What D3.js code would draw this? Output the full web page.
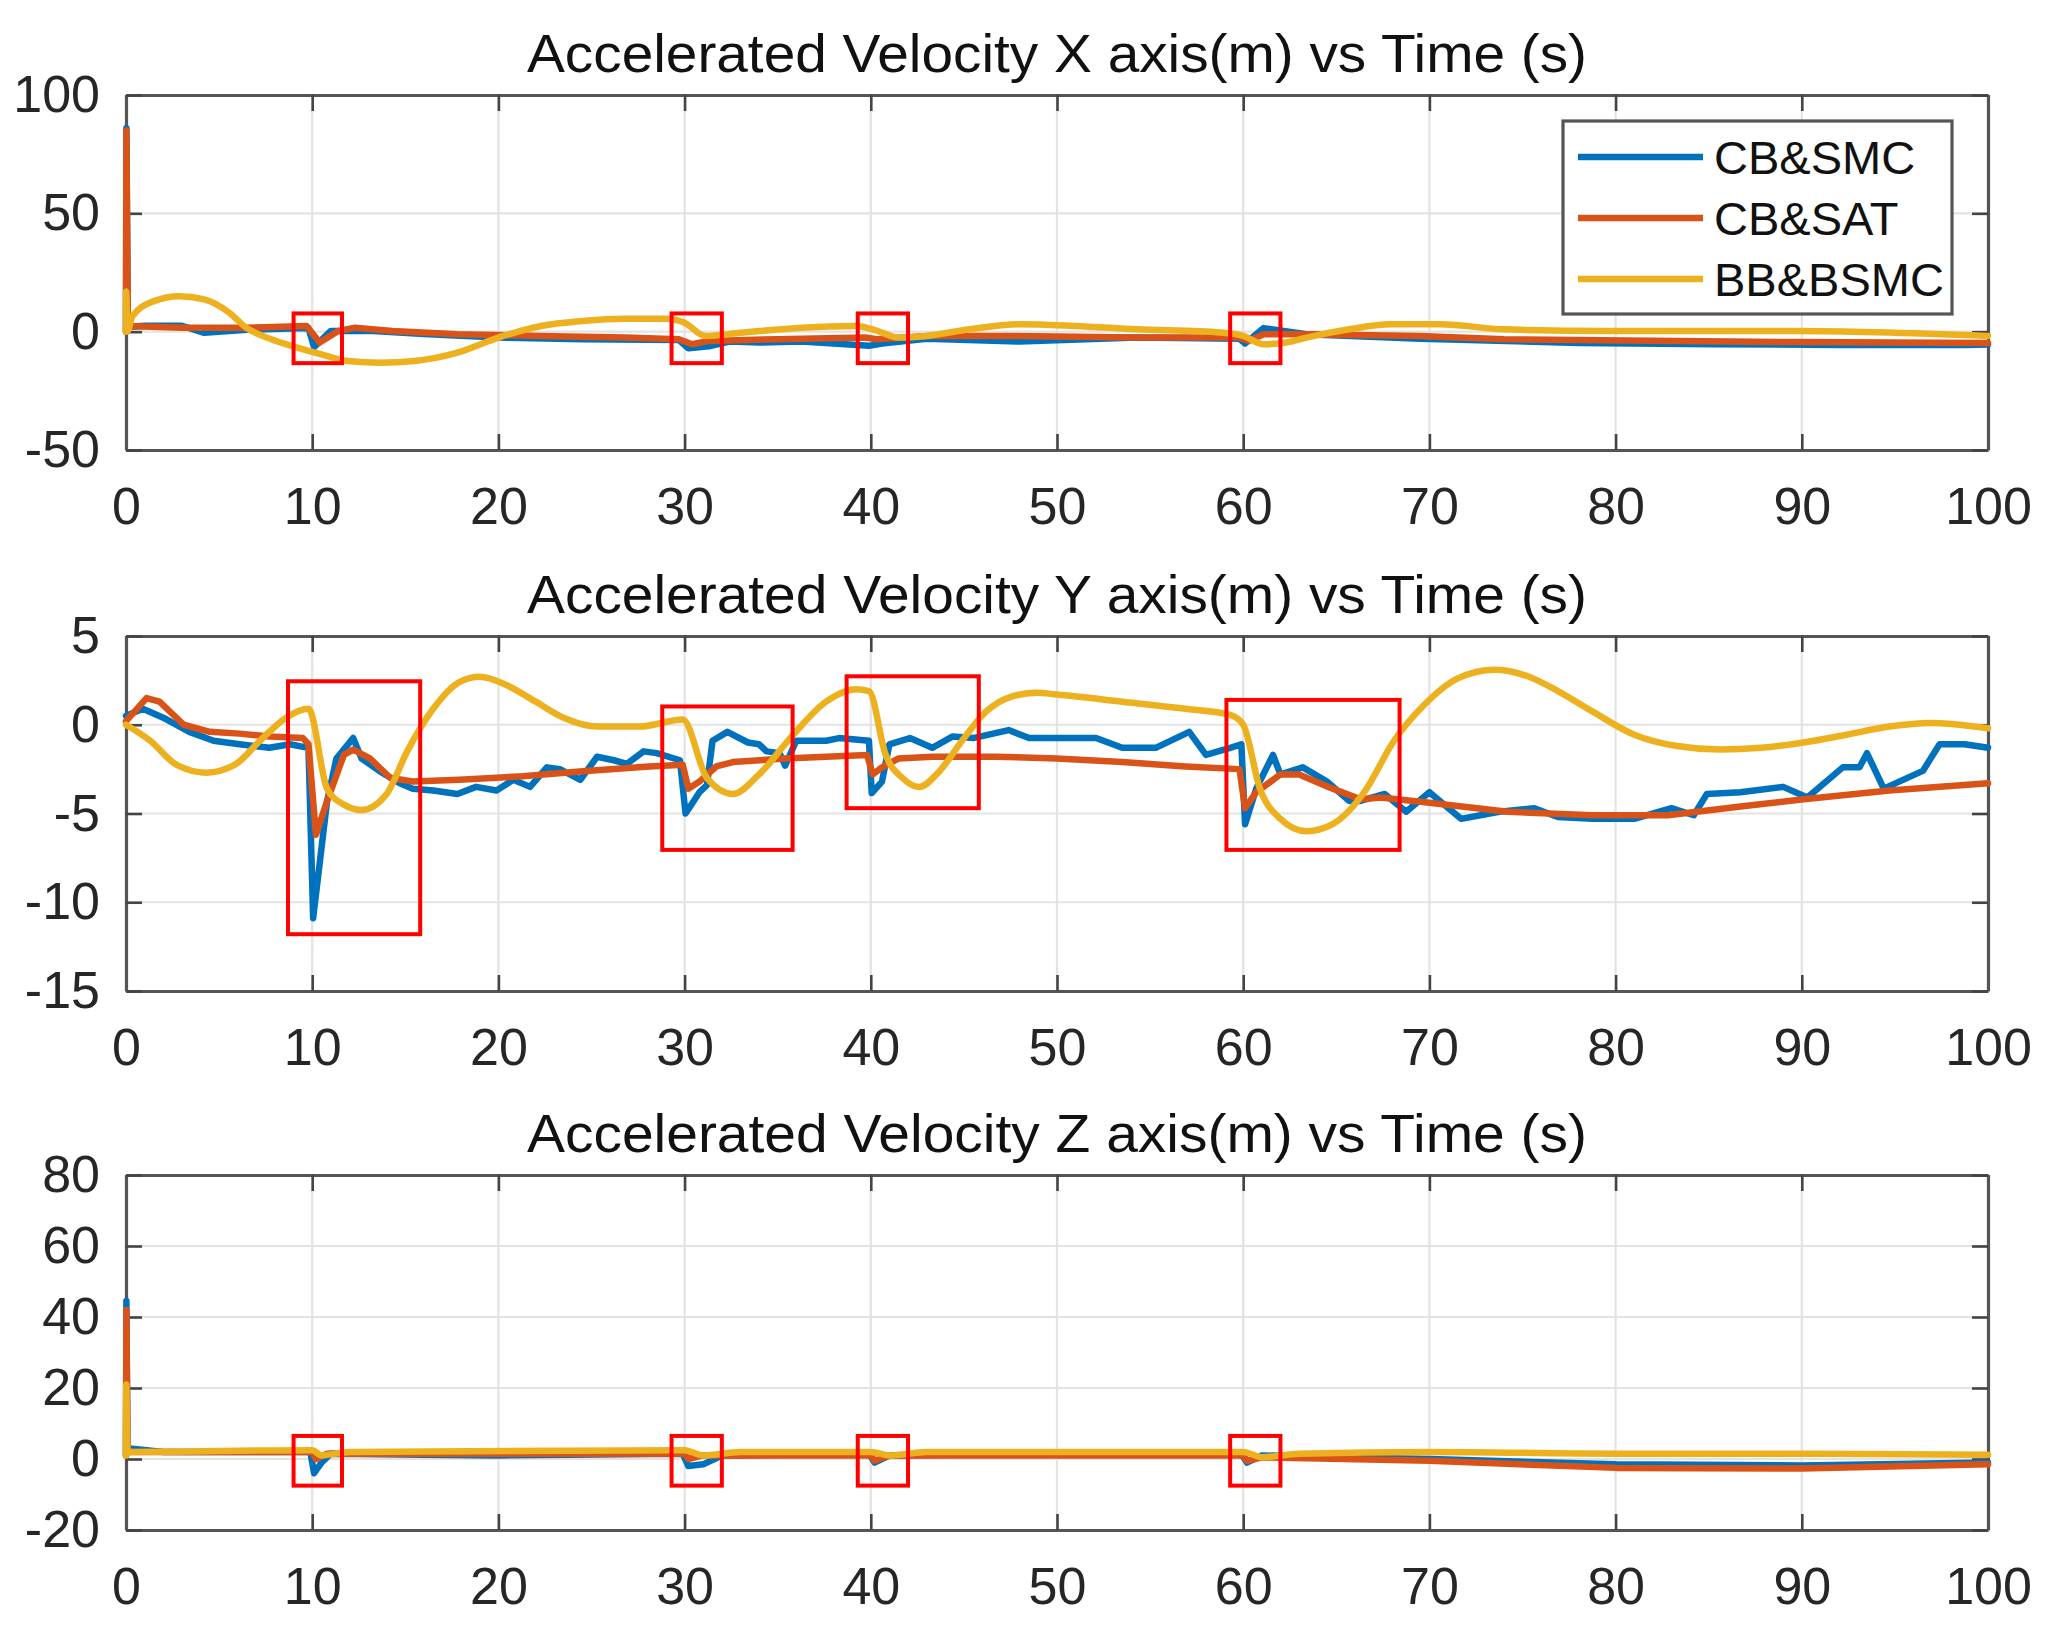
<!DOCTYPE html>
<html><head><meta charset="utf-8">
<script src="https://cdn.jsdelivr.net/npm/d3@7/dist/d3.min.js"></script>
<style>body{margin:0;background:#fff}</style>
</head><body>
<svg id="chart" width="2051" height="1640"></svg>
<script>
// ---------- data ----------
const timeTicks = [0,10,20,30,40,50,60,70,80,90,100];
const seriesNames = ["CB&SMC","CB&SAT","BB&BSMC"];
const panelTitles = [
  "Accelerated Velocity X axis(m) vs Time (s)",
  "Accelerated Velocity Y axis(m) vs Time (s)",
  "Accelerated Velocity Z axis(m) vs Time (s)"
];
const yTicksX = [-50,0,50,100];
const yTicksY = [-15,-10,-5,0,5];
const yTicksZ = [-20,0,20,40,60,80];

// X axis panel  [time, value]
const xSMC = [[0,0],[0.02,86],[0.1,2],[1,2.5],[3,2.5],[4.2,-0.5],[6.5,0.8],[9.8,1.5],[10.1,-6.5],[11,0.3],[13.3,0.3],[16,-1],[20,-2.5],[24.5,-3.2],[29.7,-3.5],[30.2,-7],[31.3,-6.2],[32.4,-4.2],[34,-4.6],[36.3,-4.2],[39.9,-6],[40.6,-5],[43,-3],[48,-4.2],[54.3,-2.5],[59.8,-3],[60.1,-5],[61.1,1.5],[63.4,-1.1],[69.5,-3],[78,-4.8],[85.3,-5.3],[92,-5.6],[98.8,-5.6],[100,-5.4]];
const xSAT = [[0,0],[0.02,85],[0.1,2.4],[3,1.7],[6.5,1.7],[9.7,2.4],[10.4,-4.6],[11.4,0.3],[12.3,1.7],[14.3,0.3],[17.8,-1.1],[22.3,-1.8],[26.8,-2.5],[29.7,-3.2],[30.4,-5.3],[31.3,-3.9],[35,-3.2],[39.7,-2.5],[40.3,-3.2],[43,-1.8],[47.6,-1.8],[54.3,-2.5],[59.8,-2.5],[60.3,-3.9],[61.1,-1.1],[63.4,-1.1],[69.5,-1.8],[74,-3.2],[89.7,-4.4],[100,-4.8]];
const xBSMC = [[0,0],[0.01,17],[0.08,0.3],[0.35,6.6],[1.5,12.9],[2.84,15],[4.2,13.6],[5.55,8],[6.45,1.7],[7.8,-3.2],[9.2,-6.7],[10.5,-9.6],[11.9,-12.4],[13.7,-13.1],[15.5,-12.4],[17.8,-8.9],[20,-2.5],[22.3,2.4],[24.5,4.5],[26.8,5.5],[29,5.5],[30,3.8],[31.1,-1.8],[33,-0.5],[36.3,1.7],[39.2,2.4],[40.1,1],[41.5,-2.5],[43,-1.8],[45.3,1],[48,3.1],[50.9,2.4],[54.3,1],[58.8,-0.4],[60,-1.8],[61.1,-5.3],[62.3,-4.6],[63.4,-2.5],[65.7,1],[67.9,3.1],[70.6,3.1],[74,1],[79.6,0.3],[89.7,0.3],[100,-1.8]];

// Y axis panel
const ySMC = [[0,0.5],[0.9,0.9],[2,0.4],[3.4,-0.4],[4.7,-0.9],[6.1,-1.1],[7.7,-1.3],[8.8,-1.1],[9.8,-1.3],[10.05,-10.9],[10.8,-4.3],[11.3,-1.9],[12.2,-0.75],[12.65,-1.9],[13.6,-2.6],[14.7,-3.3],[15.4,-3.6],[16.5,-3.7],[17.8,-3.9],[18.8,-3.5],[19.9,-3.7],[20.8,-3.1],[21.7,-3.5],[22.6,-2.4],[23.3,-2.5],[24.4,-3.1],[25.3,-1.8],[26.2,-2.0],[26.9,-2.2],[27.8,-1.5],[28.5,-1.6],[29.75,-2.0],[30.05,-5.0],[30.8,-3.8],[31.2,-3.4],[31.5,-0.9],[32.3,-0.4],[33.4,-1.0],[34.0,-1.1],[34.4,-1.5],[35.1,-1.6],[35.4,-2.3],[36,-0.9],[37.6,-0.9],[38.3,-0.75],[39.9,-0.9],[40.05,-3.85],[40.6,-3.2],[41,-1.1],[42.1,-0.75],[43.3,-1.3],[44.4,-0.66],[45.5,-0.75],[47.4,-0.3],[48.5,-0.75],[50,-0.75],[52.1,-0.75],[53.5,-1.3],[55.3,-1.3],[57.1,-0.4],[58,-1.7],[59.3,-1.3],[59.9,-1.1],[60.1,-5.6],[60.7,-3.6],[61.6,-1.7],[62,-2.8],[63.2,-2.4],[64.5,-3.2],[65.7,-4.3],[66.25,-4.3],[67.6,-3.9],[68.75,-4.9],[70,-3.8],[71.7,-5.3],[73.75,-4.9],[75.6,-4.7],[76.9,-5.2],[78.75,-5.3],[81,-5.3],[83,-4.7],[84.2,-5.1],[84.9,-3.9],[86.7,-3.8],[89,-3.5],[90.3,-4.1],[92.2,-2.4],[93.1,-2.4],[93.5,-1.6],[94.4,-3.6],[96.5,-2.6],[97.4,-1.1],[98.75,-1.1],[100,-1.3]];
const ySAT = [[0,0.2],[1.1,1.5],[1.8,1.3],[3.1,0],[4.5,-0.4],[6.1,-0.5],[7.7,-0.66],[9.5,-0.75],[9.8,-1.1],[10.2,-6.2],[10.8,-4.3],[11.7,-1.7],[12.2,-1.4],[13.1,-1.9],[14.2,-3.0],[15.4,-3.2],[17.9,-3.1],[21.3,-2.9],[24.7,-2.6],[28.1,-2.35],[29.9,-2.25],[30.2,-3.6],[30.8,-3.2],[31.7,-2.35],[32.6,-2.1],[35.4,-1.9],[37.6,-1.8],[39.8,-1.7],[40.1,-2.8],[40.6,-2.4],[41.5,-1.9],[43.3,-1.8],[46.7,-1.8],[50,-1.9],[53.5,-2.1],[56.9,-2.35],[59.8,-2.5],[60.1,-4.7],[60.7,-3.8],[62,-2.8],[63,-2.8],[64.8,-3.6],[66.3,-4.2],[67.4,-4.1],[70,-4.4],[74.2,-4.9],[78.75,-5.1],[82.8,-5.1],[86.7,-4.6],[90.1,-4.2],[94.7,-3.7],[100,-3.3]];
const yBSMC = [[0,0],[1.3,-0.9],[2.7,-2.25],[4.3,-2.7],[5.85,-2.25],[7.2,-0.9],[8.6,0.4],[9.8,0.9],[10.8,-3.6],[11.7,-4.5],[12.65,-4.8],[14,-3.9],[15.1,-1.5],[16.5,0.9],[17.9,2.4],[19,2.7],[20.4,2.25],[22,1.3],[23.5,0.4],[25.35,-0.1],[27.6,-0.1],[29.9,0.3],[31.2,-3.0],[32.6,-3.9],[34,-2.8],[35.8,-0.6],[37.6,1.3],[39.2,2.0],[39.9,1.9],[40.8,-1.7],[41.7,-3.0],[42.6,-3.5],[43.7,-2.6],[44.9,-0.9],[46.2,0.75],[47.6,1.6],[48.9,1.8],[50,1.7],[53.5,1.3],[56.9,0.9],[59.3,0.56],[60,0],[60.9,-3.6],[62,-5.3],[63.4,-6.0],[64.8,-5.6],[66.5,-3.8],[68.1,-0.9],[69.7,1.1],[71.5,2.6],[73.5,3.1],[75.1,2.8],[76.9,1.9],[78.75,0.75],[81,-0.56],[83.3,-1.2],[85.6,-1.4],[87.8,-1.3],[90.1,-1.0],[92.4,-0.56],[94.7,-0.1],[96.9,0.1],[100,-0.2]];

// Z axis panel
const zSMC = [[0,1],[0.02,44.5],[0.08,3],[2,2],[5,2],[9.9,2],[10.1,-4],[10.5,-1],[11,1.5],[20,1],[29.9,1.5],[30.2,-2],[31,-1.5],[32,1],[39.9,1.5],[40.2,-1],[41,1],[50,1.5],[59.9,1.5],[60.2,-1],[61,1],[70,0],[80,-1.5],[90,-1.8],[100,-1]];
const zSAT = [[0,1],[0.02,42],[0.08,2],[10,2],[10.2,0],[10.8,1.5],[30,1.5],[30.2,0],[31,1],[40,1],[40.2,-0.5],[41,1],[60,1],[60.2,-0.5],[61,0.5],[70,-0.5],[80,-2.5],[90,-2.7],[100,-1.5]];
const zBSMC = [[0,1],[0.01,21],[0.08,2],[10,2.5],[10.5,1],[12,2],[30,2.5],[31,1],[33,2],[40,2],[41,1],[43,2],[60,2],[61,0.5],[63,1.5],[70,2],[80,1.5],[90,1.5],[100,1.2]];

// highlight boxes [t0, t1, vTop, vBottom]
const boxesX = [[9.0,11.6,7.7,-13.3],[29.3,32.0,7.7,-13.3],[39.3,42.0,7.7,-13.3],[59.3,62.0,7.7,-13.3]];
const boxesY = [[8.7,15.8,2.45,-11.8],[28.8,35.8,1.03,-7.05],[38.7,45.8,2.73,-4.7],[59.1,68.4,1.4,-7.05]];
const boxesZ = [[9.0,11.6,6.5,-7.5],[29.3,32.0,6.5,-7.5],[39.3,42.0,6.5,-7.5],[59.3,62.0,6.5,-7.5]];

// ---------- layout / style ----------
const colors = ["#0072BD","#D95319","#EDB120"];
const L = 126, R = 1988, H = 355;
const tops = [95, 636, 1175];
const font = "'Liberation Sans', Arial, Helvetica, sans-serif";

const panels = [
  {title: panelTitles[0], ticks: yTicksX, domain: [-50,100], series: [xSMC,xSAT,xBSMC], boxes: boxesX},
  {title: panelTitles[1], ticks: yTicksY, domain: [-15,5], series: [ySMC,ySAT,yBSMC], boxes: boxesY},
  {title: panelTitles[2], ticks: yTicksZ, domain: [-20,80], series: [zSMC,zSAT,zBSMC], boxes: boxesZ}
];

const svg = d3.select("#chart");
svg.append("rect").attr("width",2051).attr("height",1640).attr("fill","#fff");

panels.forEach((p, i) => {
  const top = tops[i], bot = top + H;
  const x = d3.scaleLinear().domain([0,100]).range([L,R]);
  const y = d3.scaleLinear().domain(p.domain).range([bot, top]);
  const g = svg.append("g");

  // grid
  g.append("g").selectAll("line").data(timeTicks).join("line")
    .attr("x1", d=>x(d)).attr("x2", d=>x(d)).attr("y1", top).attr("y2", bot)
    .attr("stroke","#e3e3e3").attr("stroke-width",2.2);
  g.append("g").selectAll("line").data(p.ticks).join("line")
    .attr("y1", d=>y(d)).attr("y2", d=>y(d)).attr("x1", L).attr("x2", R)
    .attr("stroke","#e3e3e3").attr("stroke-width",2.2);

  // axes (inward ticks on all sides)
  const tk = 16;
  const styleAxis = (sel, labels) => {
    sel.select(".domain").attr("stroke","#555").attr("stroke-width",3.2);
    sel.selectAll(".tick line").attr("stroke","#444").attr("stroke-width",2.6);
    sel.selectAll(".tick text").attr("fill","#262626").style("font-family",font).style("font-size","52px");
    if (!labels) sel.selectAll(".tick text").remove();
  };
  g.append("g").attr("transform",`translate(0,${bot})`)
    .call(d3.axisBottom(x).tickValues(timeTicks).tickSize(-tk).tickSizeOuter(0).tickPadding(37).tickFormat(d3.format("d")))
    .call(s=>styleAxis(s,true));
  g.append("g").attr("transform",`translate(0,${top})`)
    .call(d3.axisTop(x).tickValues(timeTicks).tickSize(-tk).tickSizeOuter(0))
    .call(s=>styleAxis(s,false));
  g.append("g").attr("transform",`translate(${L},0)`)
    .call(d3.axisLeft(y).tickValues(p.ticks).tickSize(-tk).tickSizeOuter(0).tickPadding(26).tickFormat(d=>String(d)))
    .call(s=>styleAxis(s,true));
  g.append("g").attr("transform",`translate(${R},0)`)
    .call(d3.axisRight(y).tickValues(p.ticks).tickSize(-tk).tickSizeOuter(0))
    .call(s=>styleAxis(s,false));

  // clip
  const cid = "clip"+i;
  svg.append("clipPath").attr("id",cid).append("rect")
    .attr("x",L-7).attr("y",top-4).attr("width",R-L+14).attr("height",H+8);

  // series
  const lg = g.append("g").attr("clip-path",`url(#${cid})`);
  p.series.forEach((data, k) => {
    const line = d3.line().x(d=>x(d[0])).y(d=>y(d[1]))
      .curve(k===2 ? d3.curveMonotoneX : d3.curveLinear);
    lg.append("path").datum(data).attr("d", line)
      .attr("fill","none").attr("stroke",colors[k]).attr("stroke-width",6.5)
      .attr("stroke-linejoin","round").attr("stroke-linecap","round");
  });

  // red highlight boxes
  g.append("g").selectAll("rect").data(p.boxes).join("rect")
    .attr("x", d=>x(d[0])).attr("width", d=>x(d[1])-x(d[0]))
    .attr("y", d=>y(d[2])).attr("height", d=>y(d[3])-y(d[2]))
    .attr("fill","none").attr("stroke","#ff0000").attr("stroke-width",4);

  // title
  g.append("text").attr("x",(L+R)/2).attr("y",top-23).attr("text-anchor","middle")
    .attr("fill","#111").style("font-family",font).style("font-size","54px")
    .attr("textLength",1060).attr("lengthAdjust","spacingAndGlyphs")
    .text(p.title);
});

// legend
const lgd = svg.append("g");
lgd.append("rect").attr("x",1563).attr("y",121).attr("width",389).attr("height",193)
  .attr("fill","#fff").attr("stroke","#555").attr("stroke-width",3.2);
const legY = [157, 218, 279];
seriesNames.forEach((n,k) => {
  lgd.append("line").attr("x1",1578).attr("x2",1703).attr("y1",legY[k]).attr("y2",legY[k])
    .attr("stroke",colors[k]).attr("stroke-width",6.5);
  lgd.append("text").attr("x",1714).attr("y",legY[k]).attr("dy","0.36em")
    .attr("fill","#111").style("font-family",font).style("font-size","47px").text(n);
});
</script>
</body></html>
